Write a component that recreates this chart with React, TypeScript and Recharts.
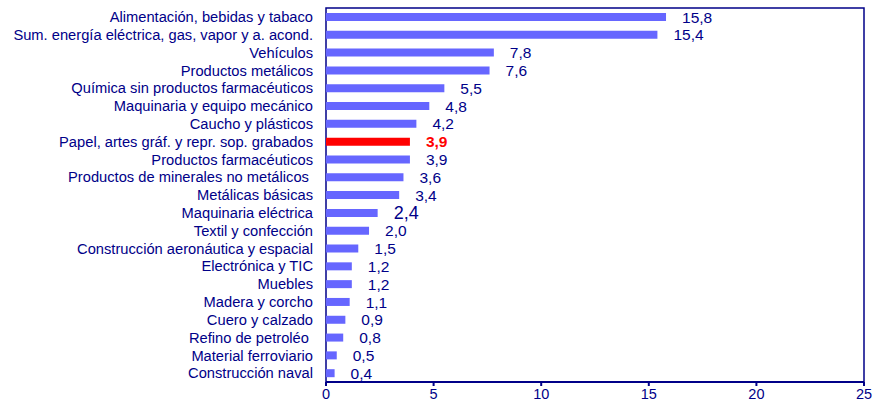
import React from "react";
import {
  BarChart, Bar, Cell, XAxis, YAxis, LabelList, ReferenceArea
} from "recharts";

const NAVY = "#000088";
const BAR = "#6666FF";
const HIGHLIGHT = "#FF0000";
const FONT = "'Liberation Sans', Arial, sans-serif";

const SECTORS = [
  "Alimentación, bebidas y tabaco",
  "Sum. energía eléctrica, gas, vapor y a. acond.",
  "Vehículos",
  "Productos metálicos",
  "Química sin productos farmacéuticos",
  "Maquinaria y equipo mecánico",
  "Caucho y plásticos",
  "Papel, artes gráf. y repr. sop. grabados",
  "Productos farmacéuticos",
  "Productos de minerales no metálicos\u00a0",
  "Metálicas básicas",
  "Maquinaria eléctrica",
  "Textil y confección",
  "Construcción aeronáutica y espacial",
  "Electrónica y TIC",
  "Muebles",
  "Madera y corcho",
  "Cuero y calzado",
  "Refino de petroléo\u00a0",
  "Material ferroviario",
  "Construcción naval",
];
const SHARES = [15.8, 15.4, 7.8, 7.6, 5.5, 4.8, 4.2, 3.9, 3.9, 3.6, 3.4, 2.4, 2.0, 1.5, 1.2, 1.2, 1.1, 0.9, 0.8, 0.5, 0.4];
const HIGHLIGHT_INDEX = 7;
const X_TICKS = [0, 5, 10, 15, 20, 25];
const ROW_BOUNDS = SECTORS.map((_, i) => i).concat(SECTORS.length);

const data = SECTORS.map((name, i) => ({ name, value: SHARES[i] }));

const fmt = (v: number) => v.toFixed(1).replace(".", ",");

function ValueLabel(props: any) {
  const { x, y, width, height, value, index } = props;
  const hot = index === HIGHLIGHT_INDEX;
  const big = index === 11;
  return (
    <text
      x={x + width + 16}
      y={y + height / 2}
      dy="0.36em"
      fill={hot ? HIGHLIGHT : NAVY}
      fontSize={big ? 18 : 15.5}
      fontWeight={hot ? "bold" : "normal"}
      fontFamily={FONT}
    >
      {fmt(value)}
    </text>
  );
}

export default function App() {
  return (
    <div style={{ position: "absolute", left: 0, top: 0, background: "#fff" }}>
      <BarChart
        width={877}
        height={407}
        data={data}
        layout="vertical"
        margin={{ top: 8, right: 13, bottom: 0, left: 0 }}
        barCategoryGap={0}
      >
        <XAxis
          type="number"
          domain={[0, 25]}
          ticks={X_TICKS}
          interval={0}
          height={25}
          axisLine={{ stroke: NAVY, strokeWidth: 2 }}
          tickLine={{ stroke: NAVY, strokeWidth: 2 }}
          tickSize={4}
          tickMargin={3}
          tick={{ fill: NAVY, fontSize: 14.5, fontFamily: FONT }}
        />
        <YAxis
          yAxisId="rows"
          type="number"
          domain={[0, SECTORS.length]}
          ticks={ROW_BOUNDS}
          interval={0}
          width={0}
          tick={false}
          tickSize={4}
          axisLine={{ stroke: NAVY, strokeWidth: 2 }}
          tickLine={{ stroke: NAVY, strokeWidth: 2 }}
        />
        <YAxis
          yAxisId="cat"
          type="category"
          dataKey="name"
          width={326}
          interval={0}
          axisLine={false}
          tickLine={false}
          tickSize={0}
          tickMargin={13}
          tick={{ fill: NAVY, fontSize: 14.7, fontFamily: FONT }}
        />
        <ReferenceArea
          yAxisId="cat"
          x1={0}
          x2={25}
          fill="none"
          stroke={NAVY}
          strokeWidth={1.5}
          ifOverflow="visible"
        />
        <Bar
          yAxisId="cat"
          dataKey="value"
          barSize={8}
          isAnimationActive={false}
        >
          {data.map((_, i) => (
            <Cell key={i} fill={i === HIGHLIGHT_INDEX ? HIGHLIGHT : BAR} />
          ))}
          <LabelList dataKey="value" content={ValueLabel} />
        </Bar>
      </BarChart>
    </div>
  );
}
